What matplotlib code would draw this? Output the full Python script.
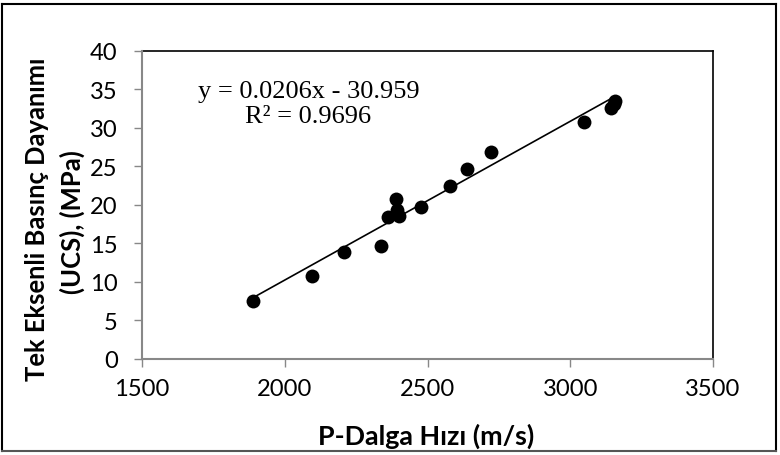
import matplotlib
matplotlib.use("Agg")
import matplotlib.pyplot as plt
import numpy as np
from matplotlib.lines import Line2D

# Data
vp = [1888, 2096, 2207, 2338, 2363, 2401, 2388, 2392, 2478, 2578, 2640, 2723, 3049, 3143, 3157, 3152]
ucs = [7.5, 10.8, 13.9, 14.6, 18.4, 18.5, 20.7, 19.3, 19.7, 22.5, 24.7, 26.9, 30.7, 32.6, 33.5, 33.1]
slope = 0.0206
intercept = -30.959
eq_text = "y = 0.0206x - 30.959"
r2_text = "R² = 0.9696"
x_ticks = [1500, 2000, 2500, 3000, 3500]
y_ticks = [0, 5, 10, 15, 20, 25, 30, 35, 40]
xlabel = "P-Dalga Hızı (m/s)"
ylabel_1 = "Tek Eksenli Basınç Dayanımı"
ylabel_2 = "(UCS), (MPa)"

W, H = 780, 456
fig = plt.figure(figsize=(W / 100, H / 100), dpi=100)
renderer = fig.canvas.get_renderer()
sans = ["Lato", "DejaVu Sans"]


def fit_size(s, target, horizontal=True, **kw):
    t = fig.text(0, 0, s, fontsize=10, **kw)
    bb = t.get_window_extent(renderer)
    t.remove()
    return 10 * target / (bb.width if horizontal else bb.width)


tick_size = fit_size("2000", 55, family=sans)
xlab_size = fit_size(xlabel, 216, family=sans, fontweight="bold")
ylab_size = fit_size(ylabel_1, 326, family=sans, fontweight="bold")

ax = fig.add_axes([142 / W, 1 - 360 / H, 571 / W, 308.3 / H])

ax.scatter(vp, ucs, s=100, color="black", zorder=3, linewidths=0)
xs = np.array([min(vp), max(vp)])
ax.plot(xs, slope * xs + intercept, color="black", lw=1.2, zorder=2)

ax.set_xlim(1500, 3500)
ax.set_ylim(0, 40)
ax.set_xticks(x_ticks)
ax.set_yticks(y_ticks)
ax.set_xticklabels([str(t) for t in x_ticks], family=sans, size=tick_size)
ax.set_yticklabels([str(t) for t in y_ticks], family=sans, size=tick_size)
ax.tick_params(axis="both", direction="out", length=5.5, width=1, color="#888888")
ax.tick_params(axis="x", pad=8)
ax.tick_params(axis="y", pad=12)

for side in ["top", "right"]:
    ax.spines[side].set_color("black")
    ax.spines[side].set_linewidth(1.2)
for side in ["left", "bottom"]:
    ax.spines[side].set_color("#888888")
    ax.spines[side].set_linewidth(1.5)
    ax.spines[side].set_zorder(4)

ax.set_xlabel(xlabel, family=sans, fontweight="bold", size=xlab_size, va="center")
ax.xaxis.set_label_coords((426.5 - 142) / 571, (360 - 436) / 308.3)

fig.text(37 / W, 1 - 219 / H, ylabel_1, family=sans, fontweight="bold", size=ylab_size,
         rotation=90, ha="center", va="center")
fig.text(72 / W, 1 - 222 / H, ylabel_2, family=sans, fontweight="bold", size=ylab_size,
         rotation=90, ha="center", va="center")

ax.text(0.2916, 0.8677, eq_text, transform=ax.transAxes, family=["Liberation Serif"], size=19,
        ha="center", va="center")
ax.text(0.290, 0.7898, r2_text, transform=ax.transAxes, family=["Liberation Serif"], size=19,
        ha="center", va="center")

# outer chart frame
frame = [((2, 5), (2, 452)), ((2, 5), (776, 5)), ((776, 5), (776, 452))]
for (x0, y0), (x1, y1) in frame:
    fig.add_artist(Line2D([x0 / W, x1 / W], [1 - y0 / H, 1 - y1 / H], transform=fig.transFigure,
                          color="black", lw=1.5))
fig.add_artist(Line2D([2 / W, 776 / W], [1 - 452 / H, 1 - 452 / H], transform=fig.transFigure,
                      color="#555555", lw=1.5))

fig.savefig("out.png", dpi=100)
